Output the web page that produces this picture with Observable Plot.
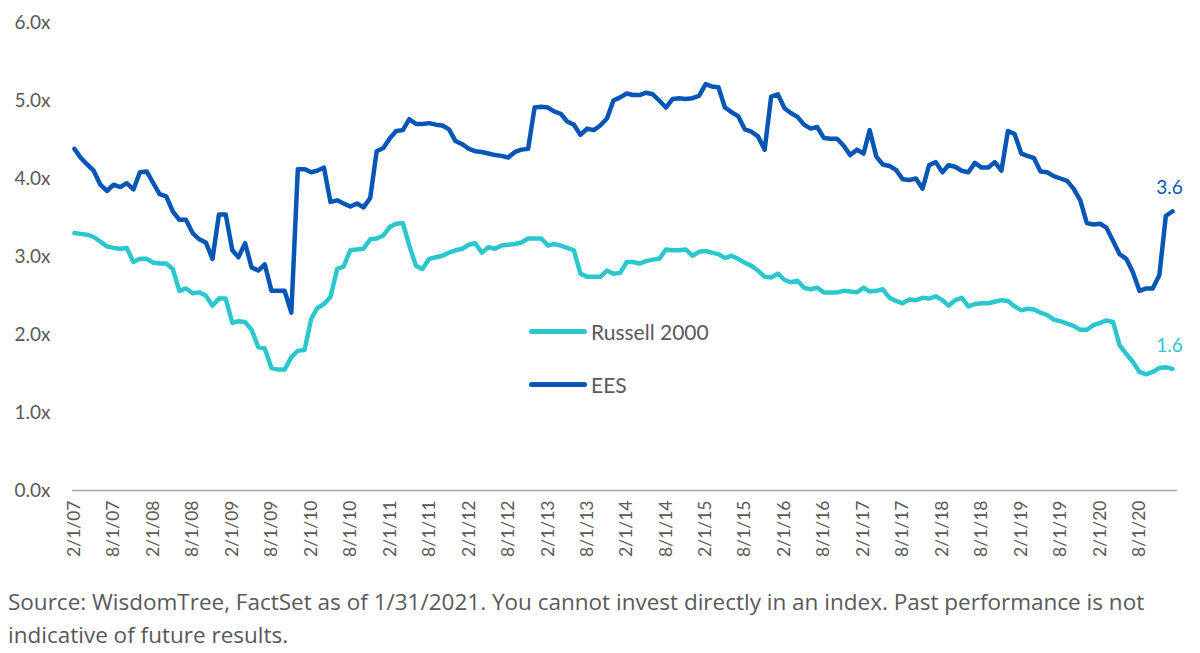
<!DOCTYPE html>
<html>
<head>
<meta charset="utf-8">
<script src="https://cdn.jsdelivr.net/npm/d3@7"></script>
<script src="https://cdn.jsdelivr.net/npm/@observablehq/plot@0.6"></script>
<style>
  html, body { margin: 0; padding: 0; background: #fff; }
  #wrap { position: relative; width: 1200px; height: 653px; overflow: hidden; }
  .leg { position: absolute; display: flex; align-items: center; font-family: Lato, sans-serif; font-size: 21px; color: #595959; }
  .leg .sw { width: 58px; height: 5px; border-radius: 3px; margin-right: 4px; }
  #caption { font-family: "Open Sans", sans-serif; font-size: 22.5px; line-height: 33px; color: #595959; padding-left: 8px; margin-top: 0; white-space: nowrap; }
</style>
</head>
<body>
<div id="wrap">
  <div id="chart"></div>
  <div id="caption"></div>
</div>
<script>
// ---- data (monthly, first month = Feb 2007) ----
const startYear = 2007;
const startMonth = 2; // February
const seriesNames = ["Russell 2000", "EES"];
const seriesColors = ["#2CC7CE", "#0657B5"];

const russellValues = [
  3.30,3.29,3.28,3.25,3.19,3.13,3.11,3.10,3.11,2.93,
  2.97,2.97,2.92,2.91,2.91,2.84,2.56,2.59,2.53,2.54,
  2.50,2.37,2.46,2.46,2.15,2.17,2.16,2.06,1.84,1.82,
  1.57,1.55,1.55,1.71,1.79,1.80,2.20,2.34,2.39,2.48,
  2.84,2.87,3.08,3.09,3.10,3.22,3.23,3.27,3.38,3.42,
  3.43,3.14,2.88,2.84,2.97,2.99,3.01,3.05,3.08,3.10,
  3.15,3.17,3.05,3.12,3.10,3.14,3.15,3.16,3.18,3.23,
  3.23,3.23,3.14,3.16,3.14,3.11,3.08,2.78,2.74,2.74,
  2.74,2.82,2.78,2.79,2.93,2.93,2.91,2.94,2.96,2.97,
  3.09,3.08,3.08,3.09,3.01,3.06,3.07,3.05,3.03,2.98,
  3.01,2.97,2.92,2.88,2.82,2.74,2.73,2.78,2.70,2.67,
  2.69,2.60,2.58,2.60,2.54,2.54,2.54,2.56,2.55,2.54,
  2.60,2.55,2.56,2.58,2.47,2.43,2.40,2.45,2.44,2.47,
  2.46,2.49,2.44,2.37,2.44,2.47,2.36,2.39,2.40,2.40,
  2.42,2.44,2.43,2.36,2.31,2.33,2.32,2.28,2.25,2.19,
  2.17,2.14,2.11,2.06,2.06,2.12,2.15,2.18,2.16,1.86,
  1.75,1.65,1.52,1.49,1.52,1.57,1.58,1.56
];

const eesValues = [
  4.38,4.27,4.18,4.10,3.92,3.84,3.92,3.89,3.94,3.86,
  4.08,4.09,3.94,3.80,3.77,3.58,3.47,3.47,3.30,3.22,
  3.18,2.97,3.54,3.54,3.08,2.99,3.17,2.86,2.82,2.90,
  2.56,2.56,2.56,2.28,4.12,4.12,4.08,4.10,4.14,3.70,
  3.72,3.68,3.64,3.68,3.63,3.75,4.35,4.39,4.52,4.61,
  4.62,4.76,4.70,4.70,4.71,4.69,4.68,4.63,4.48,4.44,
  4.38,4.35,4.34,4.32,4.30,4.29,4.27,4.34,4.37,4.38,
  4.91,4.92,4.91,4.86,4.83,4.73,4.69,4.56,4.64,4.62,
  4.68,4.77,5.00,5.04,5.09,5.07,5.07,5.10,5.08,5.00,
  4.91,5.02,5.03,5.02,5.03,5.06,5.21,5.18,5.17,4.91,
  4.85,4.80,4.63,4.60,4.54,4.37,5.05,5.08,4.90,4.84,
  4.79,4.69,4.64,4.66,4.52,4.51,4.51,4.42,4.30,4.37,
  4.32,4.62,4.28,4.18,4.16,4.11,3.99,3.98,4.00,3.87,
  4.17,4.21,4.08,4.17,4.15,4.10,4.08,4.20,4.14,4.14,
  4.21,4.10,4.61,4.57,4.32,4.29,4.26,4.09,4.08,4.03,
  4.00,3.97,3.87,3.72,3.43,3.41,3.42,3.37,3.20,3.03,
  2.97,2.80,2.56,2.59,2.59,2.76,3.52,3.58
];

const yTicks = [0, 1, 2, 3, 4, 5, 6];
const xTickLabels = [
  "2/1/07","8/1/07","2/1/08","8/1/08","2/1/09","8/1/09","2/1/10","8/1/10",
  "2/1/11","8/1/11","2/1/12","8/1/12","2/1/13","8/1/13","2/1/14","8/1/14",
  "2/1/15","8/1/15","2/1/16","8/1/16","2/1/17","8/1/17","2/1/18","8/1/18",
  "2/1/19","8/1/19","2/1/20","8/1/20"
];
const captionLines = [
  "Source: WisdomTree, FactSet as of 1/31/2021. You cannot invest directly in an index. Past performance is not",
  "indicative of future results."
];

// ---- build table ----
const monthDate = i => new Date(Date.UTC(startYear, startMonth - 1 + i, 1));
const rows = [];
russellValues.forEach((v, i) => rows.push({series: seriesNames[0], date: monthDate(i), value: v}));
eesValues.forEach((v, i) => rows.push({series: seriesNames[1], date: monthDate(i), value: v}));
const lastRows = seriesNames.map(s => rows.filter(r => r.series === s).at(-1));

const parseTick = s => { const [m, d, y] = s.split("/").map(Number); return new Date(Date.UTC(2000 + y, m - 1, d)); };
const tickDates = xTickLabels.map(parseTick);
const fmtTick = d => `${d.getUTCMonth() + 1}/${d.getUTCDate()}/${String(d.getUTCFullYear()).slice(2)}`;

const colorScale = {domain: seriesNames, range: seriesColors};

const chart = Plot.plot({
  width: 1200,
  height: 585,
  marginLeft: 72,
  marginRight: 23,
  marginTop: 22,
  marginBottom: 95,
  style: {fontFamily: "Lato, sans-serif", background: "white", color: "#595959"},
  x: {type: "utc", domain: [new Date(Date.UTC(2007, 0, 23)), new Date(Date.UTC(2021, 0, 24))]},
  y: {domain: [0, 6]},
  color: colorScale,
  marks: [
    Plot.axisY({ticks: yTicks, tickFormat: d => d.toFixed(1) + "x", tickSize: 0, tickPadding: 22, fontSize: 19, label: null}),
    Plot.axisX({ticks: tickDates, tickFormat: fmtTick, tickRotate: -90, tickSize: 0, tickPadding: 10, fontSize: 17.5, label: null}),
    Plot.ruleY([0], {stroke: "#A6A6A6", strokeWidth: 1.5}),
    Plot.line(rows, {x: "date", y: "value", z: "series", stroke: "series", strokeWidth: 4.5, strokeLinejoin: "round", strokeLinecap: "round"}),
    Plot.text(lastRows, {x: "date", y: "value", text: d => d.value.toFixed(1), fill: "series", dy: -23, dx: -3, fontSize: 19})
  ]
});
document.getElementById("chart").appendChild(chart);

// ---- legend (inside plot area) ----
const legendPos = [[529, 319], [529, 372]];
seriesNames.forEach((name, k) => {
  const el = document.createElement("div");
  el.className = "leg";
  el.style.left = legendPos[k][0] + "px";
  el.style.top = legendPos[k][1] + "px";
  el.innerHTML = `<div class="sw" style="background:${seriesColors[k]}"></div><span>${name}</span>`;
  document.getElementById("wrap").appendChild(el);
});

document.getElementById("caption").innerHTML = captionLines.map(l => `<div>${l}</div>`).join("");
</script>
</body>
</html>
